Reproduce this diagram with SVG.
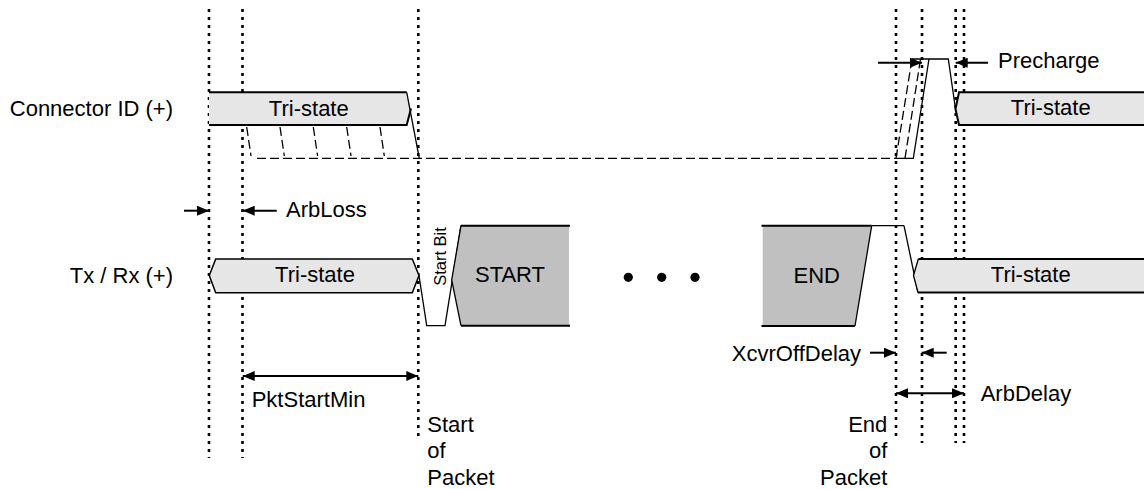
<svg xmlns="http://www.w3.org/2000/svg" width="1144" height="489" viewBox="0 0 1144 489">
<style>
text{font-family:"Liberation Sans",Arial,sans-serif;font-size:22px;fill:#000}
.dot{stroke:#000;stroke-width:2.6;stroke-dasharray:3,5;fill:none}
.edge{stroke:#000;stroke-width:2;fill:none}
.tr{stroke:#000;stroke-width:1.3;fill:none}
.dash{stroke:#000;stroke-width:1.3;stroke-dasharray:9,4;fill:none}
.tri{fill:#e6e6e6;stroke:none}
.dat{fill:#c0c0c0;stroke:none}
.arr{stroke:#000;stroke-width:2;fill:none}
.mid{text-anchor:middle}
.end{text-anchor:end}
</style>
<defs>
<marker id="ah" markerUnits="userSpaceOnUse" markerWidth="12" markerHeight="10" refX="12" refY="5" orient="auto-start-reverse" viewBox="0 0 12 10">
<path d="M0,0 L12,5 L0,10 z" fill="#000"/>
</marker>
</defs>
<rect width="1144" height="489" fill="#fff"/>
<g id="timing-lines">
<line class="dot" x1="209" y1="9" x2="209" y2="458"/>
<line class="dot" x1="242.5" y1="9" x2="242.5" y2="458"/>
<line class="dot" x1="418.3" y1="9" x2="418.3" y2="437"/>
<line class="dot" x1="896" y1="9" x2="896" y2="437"/>
<line class="dot" x1="922" y1="9" x2="922" y2="443"/>
<line class="dot" x1="955.7" y1="9" x2="955.7" y2="443"/>
<line class="dot" x1="964" y1="9" x2="964" y2="443"/>
</g>
<g id="label-connector-id"><text class="end" x="173" y="115.5">Connector ID (+)</text></g>
<g id="label-txrx"><text class="end" x="173" y="283.3">Tx / Rx (+)</text></g>
<g id="connector-tristate-left">
<polygon class="tri" points="209,92.3 406.7,92.3 411,108.5 406.7,125 209,125"/>
<polyline class="edge" points="209,92.3 406.7,92.3"/>
<polyline class="edge" points="209,125 406.7,125 411,108.5"/>
<line class="tr" x1="406.7" y1="92.3" x2="419.3" y2="158.3"/>
<text class="mid" x="308.8" y="115.7">Tri-state</text>
</g>
<g id="connector-float">
<line class="dash" x1="246.7" y1="127" x2="251" y2="156"/>
<line class="dash" x1="280" y1="127" x2="284.3" y2="156"/>
<line class="dash" x1="313.3" y1="127" x2="317.6" y2="156"/>
<line class="dash" x1="346.7" y1="127" x2="351" y2="156"/>
<line class="dash" x1="380" y1="127" x2="384.3" y2="156"/>
<line class="dash" x1="257" y1="158.3" x2="896" y2="158.3"/>
</g>
<g id="connector-precharge">
<line class="dash" x1="896" y1="158.3" x2="912" y2="59"/>
<line class="dash" x1="905" y1="158.3" x2="920.5" y2="59"/>
<polyline class="tr" points="896,158.3 913.3,158.3 929,59"/>
<polyline class="tr" points="912,59 948.3,59 955.5,109"/>
</g>
<g id="connector-tristate-right">
<polygon class="tri" points="959,92.3 1144,92.3 1144,125 959,125 955.5,109"/>
<polyline class="edge" points="1144,92.3 959,92.3 955.5,109 959,125 1144,125"/>
<text class="mid" x="1050.7" y="115">Tri-state</text>
</g>
<g id="txrx-tristate-left">
<polygon class="tri" points="215.7,259 412.3,259 419,275.5 412.3,292.7 215.7,292.7 209.3,275.5"/>
<polygon class="tr" points="215.7,259 412.3,259 419,275.5 412.3,292.7 215.7,292.7 209.3,275.5" style="stroke-width:1.5"/>
<text class="mid" x="315" y="281.7">Tri-state</text>
</g>
<g id="start-bit">
<polyline class="tr" points="419,275.5 426.7,325.7 445,325.7 461,225.7"/>
<text style="font-size:16.5px" text-anchor="middle" transform="translate(445.5,256.5) rotate(-90)">Start Bit</text>
</g>
<g id="start-box">
<polygon class="dat" points="461,225.7 569,225.7 569,325.7 461,325.7 451.7,280"/>
<polyline class="edge" points="570,225.7 461,225.7"/>
<polyline class="tr" points="461,225.7 451.7,280 461,325.7"/>
<polyline class="edge" points="461,325.7 570,325.7"/>
<text class="mid" x="510" y="281.7">START</text>
</g>
<g id="ellipsis">
<circle cx="628.3" cy="277.3" r="4.6"/>
<circle cx="661.7" cy="277.3" r="4.6"/>
<circle cx="695" cy="277.3" r="4.6"/>
</g>
<g id="end-box">
<polygon class="dat" points="762.7,225.7 871.7,225.7 855,326 762.7,326"/>
<polyline class="edge" points="761.5,225.7 871.7,225.7"/>
<polyline class="tr" points="871.7,225.7 904,225.7"/>
<polyline class="tr" points="871.7,225.7 855,326"/>
<polyline class="edge" points="761.5,326 855,326"/>
<line class="tr" x1="904" y1="225.7" x2="918" y2="292.5"/>
<text class="mid" x="816.7" y="282.7">END</text>
</g>
<g id="txrx-tristate-right">
<polygon class="tri" points="918.3,259 1144,259 1144,292.5 918,292.5 913.5,275.5"/>
<polyline class="edge" points="1144,259 918.3,259"/>
<polyline class="tr" points="918.3,259 913.5,275.5 918,292.5"/>
<polyline class="edge" points="918,292.5 1144,292.5"/>
<text class="mid" x="1030.7" y="282">Tri-state</text>
</g>
<g id="connectors">
<line class="arr" x1="184" y1="210.7" x2="209" y2="210.7" marker-end="url(#ah)"/>
<line class="arr" x1="276.7" y1="210.7" x2="242.7" y2="210.7" marker-end="url(#ah)"/>
<line class="arr" x1="878" y1="62.7" x2="922" y2="62.7" marker-end="url(#ah)"/>
<line class="arr" x1="988" y1="62.7" x2="955.7" y2="62.7" marker-end="url(#ah)"/>
<line class="arr" x1="242.7" y1="376" x2="418.3" y2="376" marker-start="url(#ah)" marker-end="url(#ah)"/>
<line class="arr" x1="870" y1="352.7" x2="896" y2="352.7" marker-end="url(#ah)"/>
<line class="arr" x1="946.7" y1="352.7" x2="921.7" y2="352.7" marker-end="url(#ah)"/>
<line class="arr" x1="896" y1="393.3" x2="964" y2="393.3" marker-start="url(#ah)" marker-end="url(#ah)"/>
</g>
<g id="annotations">
<text x="286" y="216.7">ArbLoss</text>
<text x="998" y="68.3">Precharge</text>
<text x="251.7" y="407.3">PktStartMin</text>
<text class="end" x="861" y="360.7">XcvrOffDelay</text>
<text x="980.7" y="400.7">ArbDelay</text>
<text x="427.3" y="431.7">Start</text>
<text x="427.3" y="458.3">of</text>
<text x="427.3" y="484.5">Packet</text>
<text class="end" x="887.3" y="431.7">End</text>
<text class="end" x="887.3" y="458.3">of</text>
<text class="end" x="887.3" y="484.5">Packet</text>
</g>
</svg>
